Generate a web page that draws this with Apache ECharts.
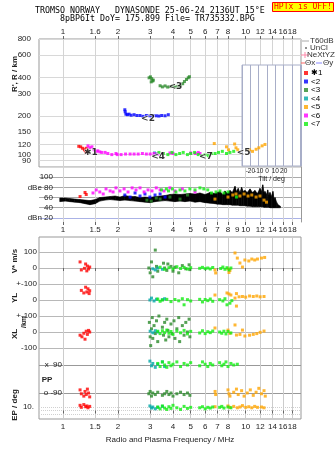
<!DOCTYPE html>
<html><head><meta charset="utf-8">
<script src="https://cdn.jsdelivr.net/npm/echarts@6/dist/echarts.min.js"></script>
<style>html,body{margin:0;padding:0;background:#fff}#c{width:335px;height:451px}</style>
</head><body><div id="c"></div>
<script>
// ---------------- DATA ----------------
const classNames = ['✱1','<2','<3','<4','<5','<6','<7'];
const classColors = ['#ff0000','#0000ff','#2a8a2a','#00a8a8','#ffa500','#ff00ff','#11ee11'];

// frequency ticks
const gridFreqs = [1,1.5,2,3,4,5,6,7,8,10,12,14,16,18];
const topTickFreqs = [1,1.5,2,3,4,5,6,7,8,10,12,14,16,18];
const topTickLabels = ['1','1.6','2','3','4','5','6','7','8','10','12','14','16','18'];
const midTickFreqs = [1,1.5,2,3,4,5,6,7,8,9,10,12,14,16,18];
const midTickLabels = ['1','1.5','2','3','4','5','6','7','8','9','10','12','14','16','18'];
const botTickFreqs = [1,1.5,2,3,4,5,6,7,8,10,12,14,16,18];
const botTickLabels = ['1','1.5','2','3','4','5','6','7','8','10','12','14','16','18'];
const heightTicks = [80,90,100,120,150,200,300,400,600,800];
const dbTicks = [20,40,60,80,100];
const dbTickLabels = ['dBn 20','40','60','dBe 80','100'];

// virtual height (MHz, km)
const h1 = [[1.22,116],[1.25,115],[1.28,112],[1.31,109],[1.33,105],[1.34,112]];
const h2 = [[2.18,224],[2.19,216],[2.21,207],[2.25,205],[2.30,207],[2.36,203],[2.45,205],[2.54,202],[2.64,202],[2.74,199],[2.86,202],[2.99,201],[3.11,202],[3.24,201],[3.35,200],[3.47,202],[3.62,201],[3.77,205]];
const h3 = [[2.96,398],[3.01,405],[3.06,392],[3.12,382],[3.04,370],[3.10,376],[3.40,345],[3.50,338],[3.62,344],[3.74,337],[3.86,340],[3.99,344],[4.12,337],[4.26,342],[4.40,348],[4.52,358],[4.62,372],[4.74,386],[4.85,398],[4.92,406]];
const h4 = [[3.17,103],[3.24,101]];
const h5 = [[6.73,122],[7.85,115],[8.05,109],[8.70,121],[8.85,113],[9.05,109],[10.5,109],[10.9,106],[11.4,110],[11.8,113],[12.3,117],[12.75,120]];
const h6 = [[1.37,117],[1.40,113],[1.44,115],[1.48,109],[1.52,106],[1.55,107],[1.59,105],[1.63,104],[1.70,104],[1.76,102],[1.85,100],[1.95,102],[1.98,100],[2.08,100],[2.20,101],[2.33,101],[2.45,101],[2.58,101],[2.72,102],[2.86,101],[3.00,101],[3.15,102],[3.30,101],[3.50,102],[3.85,103],[4.00,102],[5.00,103],[5.30,102],[5.50,104],[5.62,102]];
const h7 = [[3.35,104],[3.55,102],[3.75,100],[3.95,104],[4.15,100],[4.35,102],[4.55,104],[4.80,100],[5.00,102],[5.25,104],[5.50,100],[5.75,98],[6.00,100],[6.25,98],[6.50,102],[6.80,102],[7.10,104],[7.45,106],[7.85,102],[8.20,104],[8.60,106]];
// echo-class markers
const markerNames = ['✱1','<2','<3','<4','<5','<7'];
const markerFreqs = [1.42,2.92,4.12,3.32,9.75,6.05];
const markerHeights = [104,190,338,97,104,96];

// amplitude (dB): black band lower / upper envelope
const dbFreq = [0.96,1.03,1.09,1.16,1.24,1.32,1.405,1.50,1.59,1.70,1.81,1.93,2.05,2.18,2.33,2.48,2.64,2.81,2.99,3.19,3.40,3.62,3.85,4.10,4.37,4.65,4.95,5.28,5.62,5.99,6.38,6.79,7.0,7.23,7.5,7.7,7.95,8.2,8.45,8.74,8.9,9.1,9.3,9.5,9.7,9.91,10.2,10.56,10.9,11.24,11.6,11.97,12.2,12.4,12.6,12.75,13.0,13.2,13.4,13.58,13.8,14.1,14.3,14.47,14.8,15.0,15.5];
const dbLo = [52,53,52,51,50,48,46,48,53,55,56,55,54,55,54,53,52,51,50,52,53,54,53,52,53,52,53,51,52,50,49,48,47,47,46,46,46,46,45,45,45,45,44,44,44,44,43,43,42,42,42,42,42,42,41,41,41,41,41,40,40,40,40,40,40,40,40];
const dbHi = [59,59,58,57,56,55,54,56,60,61,62,63,61,64,62,62,60,61,60,62,63,64,66,67,66,67,68,67,69,66,70,68,70,72,66,73,68,74,70,82,72,78,70,80,72,74,70,77,70,74,68,78,72,85,70,72,66,75,64,70,62,72,56,60,50,46,43];
const d1 = [[1.24,62],[1.32,70],[1.34,66]];
const d2 = [[2.18,65],[2.33,61],[2.48,69],[2.64,63],[2.81,67],[2.99,61],[3.19,65],[3.40,67],[3.62,61]];
const d3 = [[2.88,55],[3.04,53],[3.24,59],[3.40,57],[3.85,61],[4.37,57],[4.80,65]];
const d5 = [[6.79,57],[8.0,61],[8.5,65],[8.85,67],[9.3,63],[9.8,67],[10.3,63],[10.8,65],[11.4,61],[11.97,63],[12.6,55],[13.0,51]];
const d6 = [[1.46,69],[1.52,75],[1.59,71],[1.66,67],[1.72,77],[1.81,73],[1.88,71],[1.95,79],[2.05,73],[2.16,77],[2.27,71],[2.39,79],[2.51,75],[2.64,79],[2.78,71],[2.92,75],[3.07,73],[3.24,79],[3.40,75],[3.57,73],[3.85,79],[4.10,73],[4.50,77],[5.28,71]];
const d7 = [[3.46,75],[3.68,77],[3.78,73],[3.97,77],[4.15,71],[4.37,75],[4.65,73],[4.95,77],[5.28,75],[5.62,79],[5.90,77],[6.20,75],[6.50,69],[6.88,71],[7.23,73],[7.60,69],[8.0,71],[8.9,61]];

// V* (m/s)
const v1 = [[1.24,38],[1.26,-12],[1.31,-2],[1.33,25],[1.35,-18],[1.36,12],[1.38,-6],[1.40,6]];
const v3 = [[2.95,0],[3.0,-30],[3.05,38],[3.1,-55],[3.2,112],[3.25,10],[3.3,-20],[3.55,30],[3.6,0],[3.7,-15],[3.75,25],[3.9,10],[4.0,-20],[4.1,5],[4.3,-30],[4.5,15],[4.7,-5],[4.9,20],[4.95,-10]];
const v4 = [[3.1,-5],[3.2,-12],[3.3,0],[3.5,-8]];
const v5 = [[6.79,-12],[6.85,-31],[8.0,-5],[8.1,-28],[8.2,-15],[8.74,94],[9.0,62],[9.3,31],[9.6,6],[9.9,50],[10.4,44],[10.8,56],[11.2,50],[11.6,56],[12.2,62],[12.7,66]];
const v7 = [[3.4,5],[3.6,-8],[3.8,2],[4.0,-5],[4.2,8],[4.4,-3],[4.6,4],[4.8,-6],[5.0,2],[5.6,-2],[5.8,4],[6.0,-4],[6.2,0],[6.4,-6],[6.6,3],[7.3,-3],[7.5,6],[7.7,-8],[7.9,2],[8.1,-12],[8.3,0]];

// YL (km)
const y1 = [[1.26,60],[1.30,44],[1.33,80],[1.35,50],[1.37,70],[1.39,40],[1.40,58]];
const y4 = [[2.99,0],[3.05,12],[3.15,-6],[3.25,5],[3.5,2],[3.6,8]];
const y5 = [[6.79,31],[7.9,44],[8.1,38],[8.3,31],[8.74,12],[8.9,40],[8.9,-38],[9.2,20],[9.6,22],[10.0,18],[10.5,25],[11.0,22],[11.5,25],[12.0,20],[12.6,22]];
const y7 = [[3.3,6],[3.4,-8],[3.5,0],[3.7,4],[3.9,-10],[4.1,3],[4.3,-5],[4.5,8],[4.6,-30],[4.8,2],[5.0,-6],[5.6,4],[5.8,-12],[6.0,3],[6.2,-4],[6.4,6],[6.6,-8],[7.2,2],[7.5,-6],[7.7,8],[7.9,-30],[8.2,-20],[8.4,-4]];

// XL (km)
const x1 = [[1.24,-20],[1.27,-30],[1.30,-8],[1.32,-45],[1.34,5],[1.36,-15],[1.38,10],[1.40,0]];
const x3 = [[2.95,110],[2.97,60],[3.0,-30],[3.02,-85],[3.05,20],[3.08,90],[3.1,-40],[3.15,40],[3.2,-10],[3.25,70],[3.3,-60],[3.35,100],[3.5,30],[3.55,-20],[3.6,60],[3.65,-50],[3.7,80],[3.75,10],[3.8,-30],[3.9,50],[3.95,-10],[4.05,70],[4.1,-40],[4.2,20],[4.3,90],[4.35,-60],[4.5,40],[4.6,-20],[4.7,60],[4.8,0],[4.9,80],[4.95,-30]];
const x4 = [[3.0,5],[3.1,-5],[3.2,8],[3.3,0]];
const x5 = [[6.79,25],[8.0,12],[8.2,-8],[8.74,44],[8.9,-19],[9.3,-15],[9.6,12],[9.9,-25],[10.5,-20],[11.0,-15],[11.5,-10],[12.0,-2],[12.6,6]];
const x7 = [[3.3,5],[3.4,-10],[3.5,8],[3.6,-4],[3.7,12],[3.8,-8],[3.9,3],[4.0,-15],[4.2,6],[4.4,-5],[4.6,10],[4.8,-12],[5.0,4],[5.6,-6],[5.8,8],[6.0,-10],[6.2,2],[6.4,-4],[6.6,6],[7.2,0],[7.4,-8],[7.6,5],[7.8,-12],[8.0,3],[8.3,-6]];

// PP (deg)
const p1 = [[1.24,-70],[1.26,-95],[1.30,-110],[1.32,-80],[1.34,-100],[1.36,-65],[1.38,-90],[1.40,-115]];
const p3 = [[2.95,-95],[3.0,-80],[3.05,-110],[3.1,-90],[3.2,-100],[3.3,-85],[3.5,-105],[3.6,-95],[3.7,-80],[3.8,-100],[3.9,-90],[4.0,-110],[4.2,-95],[4.4,-85],[4.6,-100],[4.8,-90],[4.95,-105]];
const p4 = [[2.99,115],[3.05,85],[3.1,100],[3.2,75],[3.3,95],[3.5,110],[3.6,80]];
const p5 = [[6.8,-80],[6.85,-100],[8.0,-70],[8.1,-95],[8.2,-110],[8.6,-85],[8.9,-65],[9.1,-100],[9.5,-75],[9.8,-110],[10.2,-90],[10.6,-70],[11.0,-105],[11.4,-85],[11.8,-60],[12.2,-95],[12.6,-75],[12.8,-110]];
const p7 = [[3.3,100],[3.4,80],[3.5,110],[3.6,90],[3.7,75],[3.8,105],[3.9,85],[4.0,95],[4.2,110],[4.4,80],[4.6,100],[4.8,90],[5.0,105],[5.6,85],[5.8,110],[6.0,95],[6.2,80],[6.4,100],[6.6,90],[7.2,105],[7.4,85],[7.6,95],[7.8,110],[8.0,80],[8.3,100],[8.6,90],[9.0,95]];

// EP (deg)
const e1 = [[1.24,30],[1.26,8],[1.30,50],[1.33,12],[1.35,20],[1.37,6],[1.40,15]];
const e4 = [[2.99,20],[3.05,5],[3.1,10],[3.2,3],[3.3,8],[3.5,15]];
const e5 = [[6.8,12],[8.0,20],[8.2,8],[8.6,15],[9.0,6],[9.3,10],[9.6,25],[10.0,8],[10.4,12],[10.8,6],[11.2,15],[11.6,8],[12.2,10],[12.6,6]];
const e7 = [[3.3,10],[3.4,3],[3.5,20],[3.6,5],[3.7,2],[3.8,12],[3.9,4],[4.0,30],[4.2,6],[4.4,2],[4.6,15],[4.8,4],[5.0,8],[5.6,6],[5.8,12],[6.0,3],[6.2,8],[6.4,5],[6.6,10],[7.2,8],[7.4,15],[7.6,5],[8.0,10],[8.3,6]];

// ---------------- CHART ----------------
const L2 = Math.log2, L10 = Math.log10;
const XMIN = L2(0.739), XMAX = L2(20.08);
const FONT = 'Liberation Sans';
const colorOf = {}; classNames.forEach((n,i)=>colorOf[n]=classColors[i]);
function fmtList(vals, labels, tf){ const lv = vals.map(tf); return v => { for (let i=0;i<lv.length;i++) if (Math.abs(lv[i]-v)<1e-4) return labels[i]; return ''; }; }
const GL = gridFreqs.map(L2);
const G = {left:39, right:34, outerBoundsMode:'none', containLabel:false};
function grid(o){ return Object.assign({}, G, o); }
function xa(gi, extra){
  return Object.assign({type:'value', gridIndex:gi, min:XMIN, max:XMAX,
    axisLine:{show:false}, axisTick:{show:false, customValues:GL}, axisLabel:{show:false},
    splitLine:{show:true, lineStyle:{color:'#d4d4d4', width:1}}}, extra);
}
function sc(name, arr, xi, yi, tf){
  return {type:'scatter', name, xAxisIndex:xi, yAxisIndex:yi, symbol:'rect', symbolSize:3,
    itemStyle:{color:colorOf[name]}, silent:true,
    data: arr.map(p => [L2(p[0]), tf ? tf(p[1]) : p[1]])};
}
const bandData = [];
for (let i = 0; i < dbFreq.length - 1; i++) {
  bandData.push([L2(dbFreq[i]), dbLo[i], dbHi[i], L2(dbFreq[i+1]), dbLo[i+1], dbHi[i+1]]);
}
const lblStyle = {fontFamily:FONT, fontSize:8, color:'#222'};

const option = {
  animation:false, backgroundColor:'#fff',
  title:[
    {text:'TROMSO NORWAY   DYNASONDE 25-06-24 2136UT 15°E', left:35, top:7, padding:0,
     textStyle:{fontFamily:'DejaVu Sans Mono', fontSize:8.3, fontWeight:'normal', color:'#000'}},
    {text:'8pBP6It DoY= 175.899 File= TR735332.BPG', left:60, top:15, padding:0,
     textStyle:{fontFamily:'DejaVu Sans Mono', fontSize:8.3, fontWeight:'normal', color:'#000'}},
    {text:'HPTx is OFF!', left:272, top:2, padding:[1,2,1,2], backgroundColor:'#ffff00', borderColor:'#ff0000', borderWidth:1,
     textStyle:{fontFamily:'DejaVu Sans Mono', fontSize:8, fontWeight:'normal', color:'#ff0000'}}
  ],
  legend:{data:classNames, orient:'vertical', left:304, top:69, padding:0, itemWidth:4, itemHeight:4, itemGap:0.5, icon:'rect',
    selectedMode:false, textStyle:{fontFamily:FONT, fontSize:8, color:'#000', lineHeight:8, padding:[0,0,0,-2]}},
  graphic:{elements:[
    {type:'line', shape:{x1:302,y1:41,x2:309,y2:41}, style:{stroke:'#aaa', lineWidth:1}},
    {type:'text', x:310, y:41, style:{text:'T60dB', font:'8px '+FONT, fill:'#333', verticalAlign:'middle'}},
    {type:'circle', shape:{cx:306, cy:48, r:0.8}, style:{fill:'#000'}},
    {type:'text', x:310, y:48, style:{text:'UnCl', font:'8px '+FONT, fill:'#333', verticalAlign:'middle'}},
    {type:'line', shape:{x1:301,y1:55,x2:309,y2:55}, style:{stroke:'#ff88aa', lineWidth:1}},
    {type:'line', shape:{x1:305,y1:52,x2:305,y2:58}, style:{stroke:'#ff88aa', lineWidth:1}},
    {type:'text', x:307, y:55, style:{text:'NeXtYZ', font:'8px '+FONT, fill:'#333', verticalAlign:'middle'}},
    {type:'line', shape:{x1:301,y1:63,x2:305,y2:63}, style:{stroke:'#ff6666', lineWidth:1}},
    {type:'text', x:305, y:63, style:{text:'Θx', font:'8px '+FONT, fill:'#333', verticalAlign:'middle'}},
    {type:'line', shape:{x1:316,y1:63,x2:322,y2:63}, style:{stroke:'#8888ff', lineWidth:1}},
    {type:'text', x:323, y:63, style:{text:'Θy', font:'8px '+FONT, fill:'#333', verticalAlign:'middle'}},
    {type:'text', x:15, y:74, rotation:Math.PI/2, style:{text:"R', R / km", font:'bold 8px '+FONT, fill:'#222', align:'center', verticalAlign:'middle'}},
    {type:'text', x:15, y:261, rotation:Math.PI/2, style:{text:'V* m/s', font:'bold 8px '+FONT, fill:'#222', align:'center', verticalAlign:'middle'}},
    {type:'text', x:15, y:298, rotation:Math.PI/2, style:{text:'YL', font:'bold 8px '+FONT, fill:'#222', align:'center', verticalAlign:'middle'}},
    {type:'text', x:24, y:322, rotation:Math.PI/2, style:{text:'/km', font:'bold 7px '+FONT, fill:'#222', align:'center', verticalAlign:'middle'}},
    {type:'text', x:15, y:334, rotation:Math.PI/2, style:{text:'XL', font:'bold 8px '+FONT, fill:'#222', align:'center', verticalAlign:'middle'}},
    {type:'text', x:47, y:380, style:{text:'PP', font:'bold 8px '+FONT, fill:'#222', align:'center', verticalAlign:'middle'}},
    {type:'text', x:15, y:405, rotation:Math.PI/2, style:{text:'EP / deg', font:'bold 8px '+FONT, fill:'#222', align:'center', verticalAlign:'middle'}}
  ]},
  grid:[
    grid({top:39, height:128, show:true, borderColor:'#999', borderWidth:1, backgroundColor:'transparent'}),
    grid({top:167, height:55}),
    {left:242, right:34, top:65, height:101, show:true, borderColor:'#a8aec8', borderWidth:1, backgroundColor:'#fff', z:1, outerBoundsMode:'none', containLabel:false},
    grid({top:237, height:182, show:true, borderColor:'#999', borderWidth:1, backgroundColor:'transparent'}),
    grid({top:237, height:47}),
    grid({top:284, height:32}),
    grid({top:316, height:32}),
    grid({top:348, height:52}),
    grid({top:400, height:19})
  ],
  xAxis:[
    xa(0, {position:'top', axisTick:{show:true, length:3, customValues:GL, lineStyle:{color:'#666'}},
      axisLabel:Object.assign({show:true, customValues:topTickFreqs.map(L2), formatter:fmtList(topTickFreqs, topTickLabels, L2), margin:3}, lblStyle)}),
    xa(1, {position:'bottom', axisTick:{show:true, length:3, customValues:GL, lineStyle:{color:'#666'}},
      axisLabel:Object.assign({show:true, customValues:midTickFreqs.map(L2), formatter:fmtList(midTickFreqs, midTickLabels, L2), margin:4}, lblStyle)}),
    {type:'value', gridIndex:2, min:-30, max:40.8, interval:10, z:1.5, axisLine:{show:false}, axisTick:{show:false},
      axisLabel:{fontFamily:FONT, fontSize:6.5, color:'#222', margin:2, formatter:v => (v>=-20 && v<=20) ? String(v) : ''},
      splitLine:{show:true, lineStyle:{color:'#a8aec8'}},
      name:'Tilt / deg', nameLocation:'middle', nameGap:10, nameTextStyle:{fontFamily:FONT, fontSize:7, color:'#222'}},
    {type:'value', gridIndex:3, show:false, min:0, max:1},
    xa(4, {position:'top', axisTick:{show:true, inside:true, length:3, customValues:GL, lineStyle:{color:'#666'}}, splitLine:{show:true, lineStyle:{color:'#ccc'}}}),
    xa(5, {splitLine:{show:true, lineStyle:{color:'#ccc'}}}),
    xa(6, {splitLine:{show:true, lineStyle:{color:'#ccc'}}}),
    xa(7, {splitLine:{show:true, lineStyle:{color:'#ccc'}}}),
    xa(8, {position:'bottom', axisTick:{show:true, length:3, customValues:GL, lineStyle:{color:'#666'}}, splitLine:{show:true, lineStyle:{color:'#ccc'}},
      axisLabel:Object.assign({show:true, customValues:botTickFreqs.map(L2), formatter:fmtList(botTickFreqs, botTickLabels, L2), margin:4}, lblStyle),
      name:'Radio and Plasma Frequency / MHz', nameLocation:'middle', nameGap:17, nameTextStyle:{fontFamily:FONT, fontSize:8, color:'#222'}})
  ],
  yAxis:[
    {type:'value', gridIndex:0, min:L10(80), max:L10(800), axisLine:{show:false},
      axisTick:{show:false, customValues:heightTicks.map(L10)},
      axisLabel:Object.assign({customValues:heightTicks.map(L10), formatter:v => String(Math.round(Math.pow(10,v))), margin:8}, lblStyle),
      splitLine:{show:true, lineStyle:{color:'#d8d8d8'}}},
    {type:'value', gridIndex:1, min:12, max:120, axisLine:{show:false},
      axisTick:{show:false, customValues:dbTicks},
      axisLabel:Object.assign({customValues:dbTicks, inside:true, margin:14, align:'right', formatter:fmtList(dbTicks, dbTickLabels, v=>v)}, lblStyle),
      splitLine:{show:true, lineStyle:{color:['#aab2e6','#aaa','#aaa','#aaa','#aaa']}}},
    {type:'value', gridIndex:1, position:'right', min:0, max:1, axisLine:{show:true, lineStyle:{color:'#999'}}, axisTick:{show:false}, axisLabel:{show:false}, splitLine:{show:false}},
    {type:'value', gridIndex:2, show:false, min:0, max:1, splitLine:{show:false}},
    {type:'value', gridIndex:3, show:false, min:0, max:1, splitLine:{show:false}},
    {type:'value', gridIndex:4, min:-100, max:193.75, axisLine:{show:false}, axisTick:{show:false, customValues:[-100,0,100]},
      axisLabel:Object.assign({customValues:[-100,0,100], margin:2, formatter:fmtList([-100,0,100], ['+-100','0','100'], v=>v)}, lblStyle),
      splitLine:{show:true, lineStyle:{color:'#b8b8b8'}}},
    {type:'value', gridIndex:5, min:-100, max:100, axisLine:{show:false}, axisTick:{show:false, customValues:[-100,0]},
      axisLabel:Object.assign({customValues:[-100,0], margin:2, formatter:fmtList([-100,0], ['+-100','0'], v=>v)}, lblStyle),
      splitLine:{show:true, lineStyle:{color:'#b8b8b8'}}},
    {type:'value', gridIndex:6, min:-100, max:100, axisLine:{show:false}, axisTick:{show:false, customValues:[-100,0]},
      axisLabel:Object.assign({customValues:[-100,0], margin:2, formatter:fmtList([-100,0], ['-100','0'], v=>v)}, lblStyle),
      splitLine:{show:true, lineStyle:{color:'#b8b8b8'}}},
    {type:'value', gridIndex:7, min:-135, max:199.3, axisLine:{show:false}, axisTick:{show:false, customValues:[-90,90]},
      axisLabel:Object.assign({customValues:[-90,90], inside:true, align:'right', margin:23, formatter:fmtList([-90,90], ['o -90','x  90'], v=>v)}, lblStyle),
      splitLine:{show:true, lineStyle:{color:'#999'}}},
    {type:'value', gridIndex:8, min:-2.43, max:3, axisLine:{show:false}, axisTick:{show:false, customValues:[-1,0,1]},
      axisLabel:Object.assign({customValues:[-1,1], margin:5, formatter:fmtList([-1,1], ['0.1','10.'], v=>v)}, lblStyle),
      splitLine:{show:true, lineStyle:{color:'#d0d0d0', type:'dotted'}}}
  ],
  series:[
    {type:'custom', name:'dBband', xAxisIndex:1, yAxisIndex:1, silent:true, z:2,
      encode:{x:[0,3], y:[1,2,4,5]},
      renderItem:(params, api) => {
        const a0 = api.coord([api.value(0), api.value(1)]);
        const a1 = api.coord([api.value(0), api.value(2)]);
        const b1 = api.coord([api.value(3), api.value(5)]);
        const b0 = api.coord([api.value(3), api.value(4)]);
        return {type:'polygon', shape:{points:[a0,a1,b1,b0]}, style:{fill:'#000', stroke:'#000', lineWidth:0.6}};
      },
      data: bandData},
    sc('✱1', h1, 0, 0, L10), sc('<2', h2, 0, 0, L10), sc('<3', h3, 0, 0, L10), sc('<4', h4, 0, 0, L10),
    sc('<5', h5, 0, 0, L10), sc('<6', h6, 0, 0, L10), sc('<7', h7, 0, 0, L10),
    sc('✱1', d1, 1, 1), sc('<2', d2, 1, 1), sc('<3', d3, 1, 1), sc('<5', d5, 1, 1), sc('<6', d6, 1, 1), sc('<7', d7, 1, 1),
    sc('✱1', v1, 4, 5), sc('<3', v3, 4, 5), sc('<4', v4, 4, 5), sc('<5', v5, 4, 5), sc('<7', v7, 4, 5),
    sc('✱1', y1, 5, 6), sc('<4', y4, 5, 6), sc('<5', y5, 5, 6), sc('<7', y7, 5, 6),
    sc('✱1', x1, 6, 7), sc('<3', x3, 6, 7), sc('<4', x4, 6, 7), sc('<5', x5, 6, 7), sc('<7', x7, 6, 7),
    sc('✱1', p1, 7, 8), sc('<3', p3, 7, 8), sc('<4', p4, 7, 8), sc('<5', p5, 7, 8), sc('<7', p7, 7, 8),
    sc('✱1', e1, 8, 9, L10), sc('<4', e4, 8, 9, L10), sc('<5', e5, 8, 9, L10), sc('<7', e7, 8, 9, L10),
    {type:'scatter', name:'markers', xAxisIndex:0, yAxisIndex:0, symbol:'circle', symbolSize:1, silent:true, z:5,
      itemStyle:{color:'rgba(0,0,0,0)'},
      label:{show:true, position:'inside', formatter:p=>p.name, fontFamily:'DejaVu Sans', fontSize:9, fontWeight:'bold', color:'#000', textBorderColor:'#fff', textBorderWidth:1},
      data: markerNames.map((n,i)=>({name:n, value:[L2(markerFreqs[i]), L10(markerHeights[i])]}))}
  ]
};
const chart = echarts.init(document.getElementById('c'), null, {renderer:'canvas'});
chart.setOption(option);
</script></body></html>
